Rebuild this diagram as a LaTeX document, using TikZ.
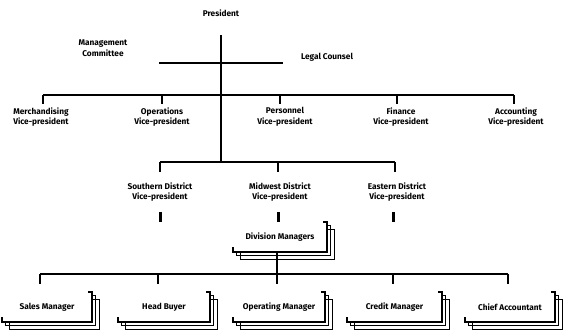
\documentclass[tikz,border=0pt]{standalone}
\usepackage{fontspec}
\setmainfont{Fira Sans}
% Stacked box: #1 name, #2 left, #3 top, #4 right, #5 bottom, #6 label
\newcommand\stackedbox[6]{%
  \foreach \d in {7.5,3.8}{%
    \draw[boxline] (#4,#3+\d) -- (#4+\d,#3+\d) -- (#4+\d,#5+\d)
      -- (#2+\d,#5+\d) -- (#2+\d,#5);
  }
  \draw[boxline] (#2,#5-5) -- (#2,#5) -- (#4,#5) -- (#4,#3) -- (#4-4,#3);
  \node[lbl] (#1) at ({(#2+#4)/2},{(#3+#5)/2}) {#6};
}
\begin{document}
\begin{tikzpicture}[x=1pt,y=-1pt,
  lbl/.style={font=\fontsize{8.3}{10.5}\selectfont\bfseries, align=center, inner sep=0pt},
  bar/.style={line width=2.7pt},
  tick/.style={line width=2.3pt},
  boxline/.style={line width=1.3pt}]
\useasboundingbox (0,0) rectangle (564,329);

% ---- top level
\node[lbl] (pres) at (221,13) {President};
\node[lbl] (mgmt) at (103,48) {Management\\Committee};
\node[lbl] (legal) at (327,57) {Legal Counsel};

\coordinate (trunktop) at (221,35);
\coordinate (hubA) at (221,95);
\coordinate (hubB) at (221,162);
\coordinate (mL) at (159,63);
\coordinate (mR) at (283,63);
\draw[bar] (trunktop) -- (hubB);
\draw[bar] (mL) -- (mR);

% ---- vice-presidents
\node[lbl] (merch) at (41,117) {Merchandising\\Vice-president};
\node[lbl] (oper)  at (162,117) {Operations\\Vice-president};
\node[lbl] (pers)  at (285,117) {Personnel\\Vice-president};
\node[lbl] (fin)   at (401,117) {Finance\\Vice-president};
\node[lbl] (acct)  at (516,117) {Accounting\\Vice-president};

\coordinate (a1) at (43,95);
\coordinate (a2) at (162,95);
\coordinate (a3) at (280,95);
\coordinate (a4) at (397,95);
\coordinate (a5) at (514,95);
\draw[bar] (a1) -- (a5);
\foreach \c in {a1,a2,a3,a4,a5}
  \draw[tick] (\c) -- ++(0,9);

% ---- district vice-presidents
\node[lbl] (south) at (160,192) {Southern District\\Vice-president};
\node[lbl] (midw)  at (280,192) {Midwest District\\Vice-president};
\node[lbl] (east)  at (397,192) {Eastern District\\Vice-president};

\coordinate (b1) at (160,162);
\coordinate (b2) at (278,162);
\coordinate (b3) at (395,162);
\draw[bar] (b1) -- (b3);
\foreach \c in {b1,b2,b3}
  \draw[tick] (\c) -- ++(0,10);

\foreach \n/\x in {south/160,midw/278,east/393}
  \draw[line width=3pt] (\x,212) -- (\x,222);

% ---- division managers
\stackedbox{divm}{233}{222}{327}{252}{Division Managers}
\coordinate (divfoot) at (277,252);
\coordinate (c3) at (277,274);
\draw[tick] (divfoot) -- (c3);

% ---- department managers
\coordinate (c1) at (40,274);
\coordinate (c2) at (158,274);
\coordinate (c4) at (393,274);
\coordinate (c5) at (508,274);
\draw[bar] (c1) -- (c5);
\foreach \c in {c1,c2,c3,c4,c5}
  \draw[tick] (\c) -- ++(0,10);

\stackedbox{sales}{2}{292}{92}{322}{Sales Manager}
\stackedbox{buyer}{118}{292}{210}{322}{Head Buyer}
\stackedbox{opm}{233}{292}{325}{322}{Operating Manager}
\stackedbox{cred}{347}{292}{442}{322}{Credit Manager}
\stackedbox{chief}{465}{292}{555}{322}{Chief Accountant}
\end{tikzpicture}
\end{document}
